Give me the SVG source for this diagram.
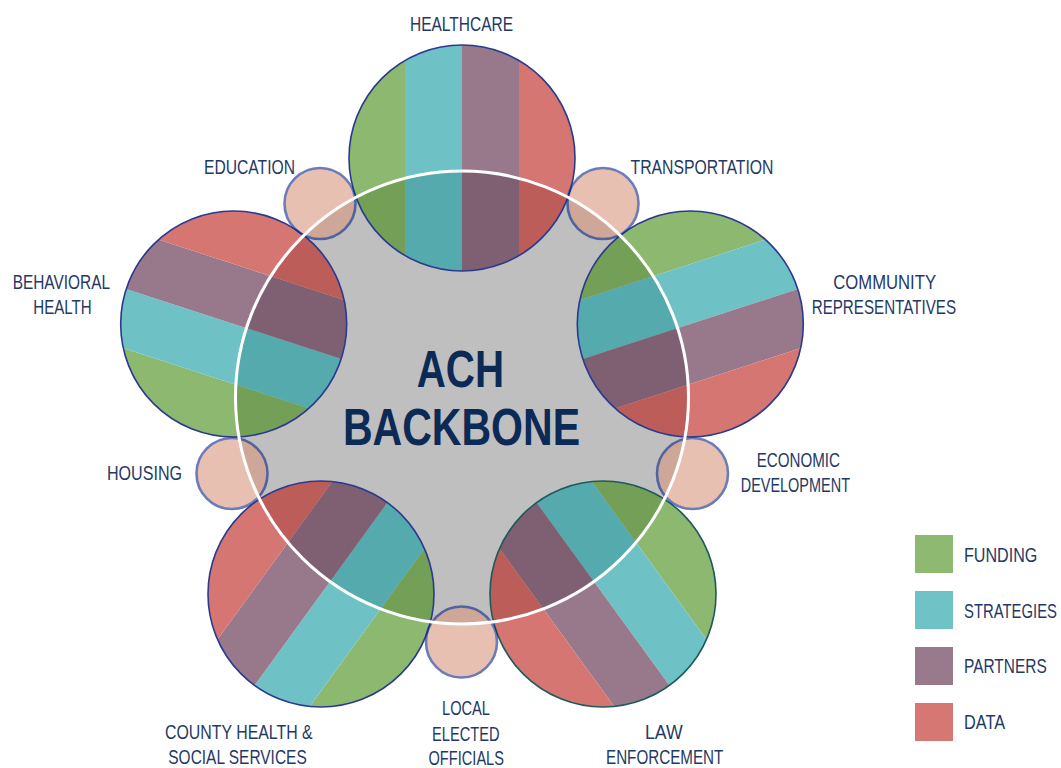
<svg xmlns="http://www.w3.org/2000/svg" xmlns:xlink="http://www.w3.org/1999/xlink" width="1061" height="768" viewBox="0 0 1061 768">
<style>
.lbl{font-family:"Liberation Sans Narrow","Liberation Sans","DejaVu Sans Condensed",sans-serif;font-size:21px;fill:#1f3a66;}
.big{font-family:"Liberation Sans Narrow","Liberation Sans","DejaVu Sans Condensed",sans-serif;font-size:51px;font-weight:bold;fill:#0c2a56;}
.ring{fill:none;stroke:#2b3a8f;stroke-width:1.6;}
.small{fill:#d99982;stroke:#0e2a8e;stroke-width:2.6;opacity:0.61;}
.sg{fill:#448c15;}.st{fill:#139da2;}.sp{fill:#582342;}.sr{fill:#bd201b;}
.g{fill:#8db970;}.t{fill:#6fc3c6;}.p{fill:#99798c;}.r{fill:#d77774;}
.str{opacity:0.61;}
</style>
<defs>
<clipPath id="cc"><circle cx="0" cy="0" r="113"/></clipPath>
<g id="stripes" clip-path="url(#cc)">
<rect class="sg" x="-114" y="-114" width="57" height="228"/>
<rect class="st" x="-57" y="-114" width="57" height="228"/>
<rect class="sp" x="0" y="-114" width="57" height="228"/>
<rect class="sr" x="57" y="-114" width="57" height="228"/>
</g>
</defs>
<rect width="1061" height="768" fill="#ffffff"/>

<g id="node-backbone">
<circle cx="462" cy="397.5" r="226.5" fill="#bfbfbf"/>
</g>

<g id="node-healthcare">
<use class="str" xlink:href="#stripes" transform="translate(462,158)"/>
<circle class="ring" cx="462" cy="158" r="113"/>
<text class="lbl" x="410" y="31" textLength="103" lengthAdjust="spacingAndGlyphs">HEALTHCARE</text>
</g>
<g id="node-community">
<use class="str" xlink:href="#stripes" transform="translate(690.3,324) rotate(72)"/>
<circle class="ring" cx="690.3" cy="324" r="113"/>
<text class="lbl" x="833.3" y="289.3" textLength="102.7" lengthAdjust="spacingAndGlyphs">COMMUNITY</text>
<text class="lbl" x="811.7" y="314" textLength="144.3" lengthAdjust="spacingAndGlyphs">REPRESENTATIVES</text>
</g>
<g id="node-law">
<use class="str" xlink:href="#stripes" transform="translate(603,594) rotate(144)"/>
<circle class="ring" cx="603" cy="594" r="113" style="stroke:#1d5a5c"/>
<text class="lbl" x="645" y="739.3" textLength="37.7" lengthAdjust="spacingAndGlyphs">LAW</text>
<text class="lbl" x="606" y="764" textLength="117.3" lengthAdjust="spacingAndGlyphs">ENFORCEMENT</text>
</g>
<g id="node-county">
<use class="str" xlink:href="#stripes" transform="translate(321,594) rotate(216)"/>
<circle class="ring" cx="321" cy="594" r="113"/>
<text class="lbl" x="165" y="739.3" textLength="147.7" lengthAdjust="spacingAndGlyphs">COUNTY HEALTH &amp;</text>
<text class="lbl" x="168.3" y="764" textLength="138.4" lengthAdjust="spacingAndGlyphs">SOCIAL SERVICES</text>
</g>
<g id="node-behavioral">
<use class="str" xlink:href="#stripes" transform="translate(233.7,324) rotate(288)"/>
<circle class="ring" cx="233.7" cy="324" r="113"/>
<text class="lbl" x="12.7" y="289.3" textLength="97.3" lengthAdjust="spacingAndGlyphs">BEHAVIORAL</text>
<text class="lbl" x="33.3" y="314" textLength="58.4" lengthAdjust="spacingAndGlyphs">HEALTH</text>
</g>

<g id="node-education">
<circle class="small" cx="320" cy="203.5" r="35.5"/>
<text class="lbl" x="204" y="174" textLength="91" lengthAdjust="spacingAndGlyphs">EDUCATION</text>
</g>
<g id="node-transportation">
<circle class="small" cx="603" cy="203.5" r="35.5"/>
<text class="lbl" x="630.5" y="174" textLength="143" lengthAdjust="spacingAndGlyphs">TRANSPORTATION</text>
</g>
<g id="node-economic">
<circle class="small" cx="692.5" cy="473.5" r="35.5"/>
<text class="lbl" x="756.7" y="467.3" textLength="83.3" lengthAdjust="spacingAndGlyphs">ECONOMIC</text>
<text class="lbl" x="740.7" y="491.7" textLength="109.3" lengthAdjust="spacingAndGlyphs">DEVELOPMENT</text>
</g>
<g id="node-housing">
<circle class="small" cx="232" cy="473.5" r="35.5"/>
<text class="lbl" x="107" y="480" textLength="75" lengthAdjust="spacingAndGlyphs">HOUSING</text>
</g>
<g id="node-local">
<circle class="small" cx="461.5" cy="642" r="35.5"/>
<text class="lbl" x="442" y="715" textLength="48" lengthAdjust="spacingAndGlyphs">LOCAL</text>
<text class="lbl" x="432" y="740.5" textLength="67.5" lengthAdjust="spacingAndGlyphs">ELECTED</text>
<text class="lbl" x="428.5" y="765" textLength="75.5" lengthAdjust="spacingAndGlyphs">OFFICIALS</text>
</g>

<g id="node-backbone-label">
<circle cx="462" cy="397.5" r="226.5" fill="none" stroke="#ffffff" stroke-width="3"/>
<text class="big" x="416.7" y="387.3" textLength="87.3" lengthAdjust="spacingAndGlyphs">ACH</text>
<text class="big" x="343" y="445" textLength="237" lengthAdjust="spacingAndGlyphs">BACKBONE</text>
</g>

<g id="connectors"></g>

<g id="legend">
<rect class="g" x="915" y="535" width="38" height="38"/>
<text class="lbl" x="964" y="561.7" textLength="73.3" lengthAdjust="spacingAndGlyphs">FUNDING</text>
<rect class="t" x="915" y="591" width="38" height="38"/>
<text class="lbl" x="964" y="617.7" textLength="93" lengthAdjust="spacingAndGlyphs">STRATEGIES</text>
<rect class="p" x="915" y="647" width="38" height="38"/>
<text class="lbl" x="964" y="673.3" textLength="82.7" lengthAdjust="spacingAndGlyphs">PARTNERS</text>
<rect class="r" x="915" y="703" width="38" height="38"/>
<text class="lbl" x="964" y="729.3" textLength="41" lengthAdjust="spacingAndGlyphs">DATA</text>
</g>
</svg>
